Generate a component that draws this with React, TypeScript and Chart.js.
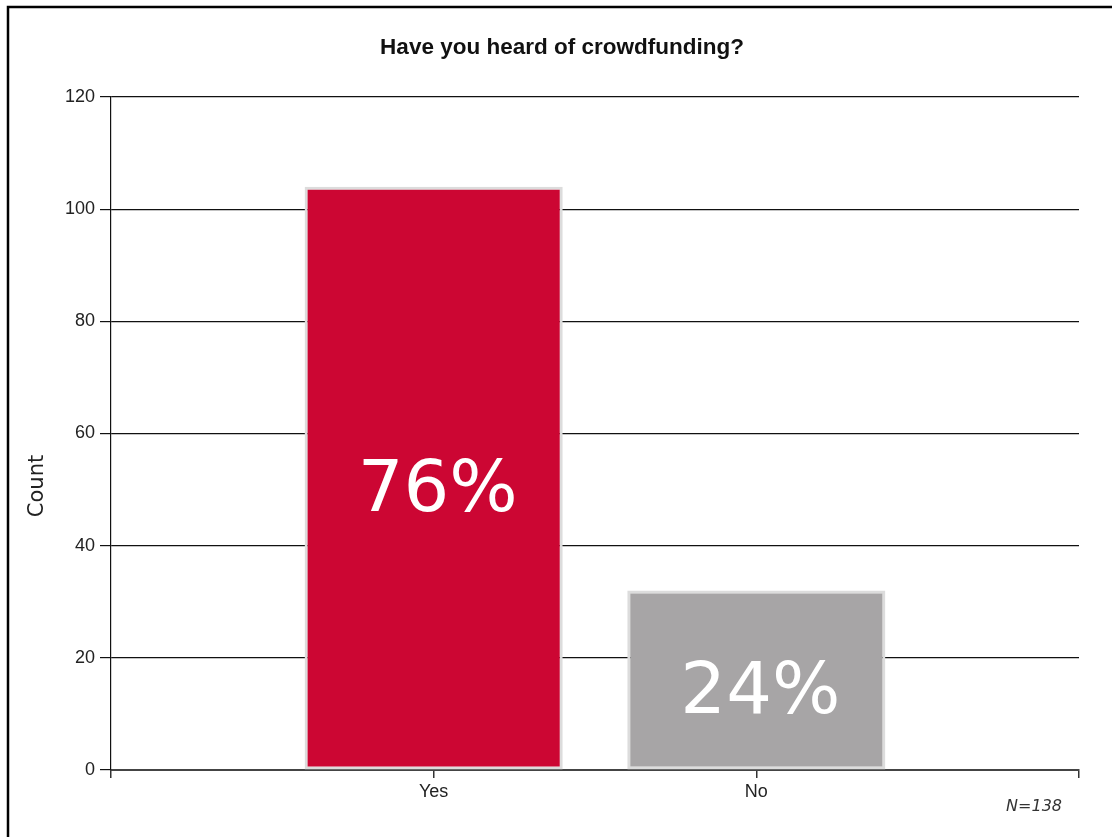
import React, { useEffect, useRef } from "react";
import { Chart, registerables } from "chart.js";

Chart.register(...registerables);

const titleText = "Have you heard of crowdfunding?";
const categories = ["", "Yes", "No", ""];
const counts: (number | null)[] = [null, 104, 32, null];
const percentLabels = ["", "76%", "24%", ""];
const barColors = ["#ffffff", "#cc0633", "#a7a5a6", "#ffffff"];
const yAxisTitle = "Count";
const yMin = 0;
const yMax = 120;
const yStep = 20;
const sampleNote = "N=138";

const decorPlugin = {
  id: "decor",
  beforeDraw(chart: any) {
    const ctx = chart.ctx;
    ctx.save();
    ctx.fillStyle = "#ffffff";
    ctx.fillRect(0, 0, chart.width, chart.height);
    ctx.strokeStyle = "#000000";
    ctx.lineWidth = 2.5;
    ctx.beginPath();
    ctx.moveTo(8, 900);
    ctx.lineTo(8, 7);
    ctx.lineTo(1200, 7);
    ctx.stroke();
    ctx.restore();
  },
  afterDraw(chart: any) {
    const ctx = chart.ctx;
    // title
    ctx.save();
    ctx.font = 'bold 22.5px "Liberation Sans", Arial, sans-serif';
    ctx.fillStyle = "#111111";
    ctx.textAlign = "center";
    ctx.textBaseline = "alphabetic";
    ctx.fillText(titleText, 562, 53.5);
    ctx.restore();

    // y axis title
    ctx.save();
    ctx.translate(38, 486);
    ctx.rotate(-Math.PI / 2);
    ctx.font = '21px "DejaVu Sans"';
    ctx.fillStyle = "#222222";
    ctx.textAlign = "center";
    ctx.textBaseline = "middle";
    ctx.fillText(yAxisTitle, 0, 0);
    ctx.restore();

    // percentage labels inside bars
    const meta = chart.getDatasetMeta(0);
    ctx.save();
    ctx.font = '72px "DejaVu Sans"';
    ctx.fillStyle = "#ffffff";
    ctx.textAlign = "center";
    ctx.textBaseline = "alphabetic";
    meta.data.forEach((bar: any, i: number) => {
      const label = percentLabels[i];
      if (!label || counts[i] == null) return;
      const cy = (bar.y + bar.base) / 2;
      ctx.fillText(label, bar.x + 4, cy + 33);
    });
    ctx.restore();

    // sample size note
    ctx.save();
    ctx.font = 'italic 16px "DejaVu Sans"';
    ctx.fillStyle = "#333333";
    ctx.textAlign = "right";
    ctx.textBaseline = "alphabetic";
    ctx.fillText(sampleNote, 1062, 811);
    ctx.restore();
  },
};

export default function App() {
  const ref = useRef<HTMLCanvasElement | null>(null);

  useEffect(() => {
    if (!ref.current) return;
    const chart = new Chart(ref.current, {
      type: "bar",
      data: {
        labels: categories,
        datasets: [
          {
            data: counts as any,
            backgroundColor: barColors,
            borderColor: "#dcdcdc",
            borderWidth: 3,
            borderSkipped: false,
            barPercentage: 0.8,
            categoryPercentage: 1,
          },
        ],
      },
      options: {
        responsive: false,
        animation: false,
        events: [],
        layout: { padding: { left: 0, right: 33, top: 97, bottom: 0 } },
        plugins: {
          legend: { display: false },
          tooltip: { enabled: false },
          title: { display: false },
        },
        scales: {
          x: {
            type: "category",
            offset: false,
            afterFit(scale: any) {
              scale.height = 67;
            },
            grid: {
              display: true,
              offset: false,
              drawOnChartArea: false,
              drawTicks: true,
              tickLength: 8,
              color: "#333333",
              lineWidth: 1.5,
            },
            border: { display: true, color: "#444444", width: 2 },
            ticks: {
              color: "#222222",
              padding: 3,
              maxRotation: 0,
              autoSkip: false,
              font: { family: '"Liberation Sans", Arial, sans-serif', size: 18 },
            },
          },
          y: {
            min: yMin,
            max: yMax,
            afterFit(scale: any) {
              scale.width = 111;
            },
            grid: {
              display: true,
              color: "#111111",
              lineWidth: 1.2,
              drawTicks: true,
              tickLength: 11,
            },
            border: { display: true, color: "#111111", width: 1.2 },
            ticks: {
              stepSize: yStep,
              color: "#222222",
              padding: 5,
              font: { family: '"Liberation Sans", Arial, sans-serif', size: 18 },
            },
          },
        },
      },
      plugins: [decorPlugin],
    });
    return () => chart.destroy();
  }, []);

  return (
    <div style={{ position: "absolute", left: 0, top: 0, width: 1112, height: 837, background: "#ffffff" }}>
      <canvas ref={ref} width={1112} height={837} style={{ display: "block" }} />
    </div>
  );
}
